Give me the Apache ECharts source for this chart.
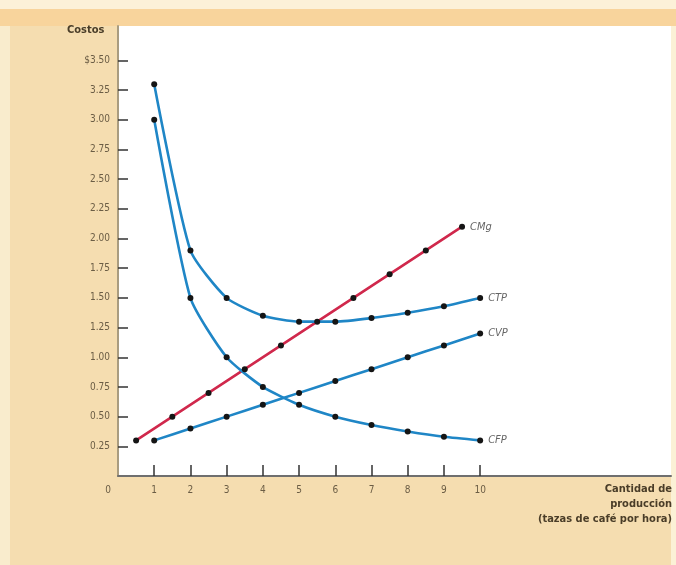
<!DOCTYPE html>
<html><head><meta charset="utf-8">
<script src="https://cdn.jsdelivr.net/npm/echarts@6/dist/echarts.min.js"></script>
<style>html,body{margin:0;padding:0;background:#f5ddb0}#c{width:676px;height:565px}</style>
</head><body><div id="c"></div>
<script>
const quantity = [1,2,3,4,5,6,7,8,9,10];
const cmgQuantity = [0.5,1.5,2.5,3.5,4.5,5.5,6.5,7.5,8.5,9.5];
const cmg = [0.30,0.50,0.70,0.90,1.10,1.30,1.50,1.70,1.90,2.10];
const ctp = [3.30,1.90,1.50,1.35,1.30,1.30,1.33,1.375,1.43,1.50];
const cvp = [0.30,0.40,0.50,0.60,0.70,0.80,0.90,1.00,1.10,1.20];
const cfp = [3.00,1.50,1.00,0.75,0.60,0.50,0.43,0.375,0.33,0.30];
const yTicks = [0.25,0.5,0.75,1,1.25,1.5,1.75,2,2.25,2.5,2.75,3,3.25,3.5];
const xTicks = [0,1,2,3,4,5,6,7,8,9,10];

const font = '"Liberation Sans Narrow","DejaVu Sans Condensed",sans-serif';
const chart = echarts.init(document.getElementById('c'));
const pairs = (xs, ys) => xs.map((x,i)=>[x, ys[i]]);
function curve(name, xs, ys, color, smooth) {
  return {
    name, type:'line', data: pairs(xs, ys), smooth: smooth,
    symbol:'circle', symbolSize:6,
    itemStyle:{color:'#151515'},
    lineStyle:{color, width:2.6},
    endLabel:{show:true, formatter:name, color:'#666', fontStyle:'italic',
      fontFamily:font, fontSize:11, distance:8},
    z:3
  };
}
chart.setOption({
  backgroundColor:'#f5ddb0',
  animation:false,
  graphic:[
    {type:'rect', shape:{x:0,y:0,width:676,height:9}, style:{fill:'#fcf1d8'}, z:-10},
    {type:'rect', shape:{x:0,y:9,width:676,height:17}, style:{fill:'#f8d49c'}, z:-10},
    {type:'rect', shape:{x:0,y:26,width:10,height:539}, style:{fill:'#f9eccd'}, z:-10},
    {type:'rect', shape:{x:671,y:26,width:5,height:539}, style:{fill:'#fbf1d6'}, z:-10},
    {type:'text', right:4, top:482, style:{text:'Cantidad de\nproducción\n(tazas de café por hora)',
      textAlign:'right', fill:'#4a3d28', font:'bold 11px '+font, lineHeight:15}},
    {type:'text', left:67, top:25, style:{text:'Costos', fill:'#4a3d28', font:'bold 11px '+font}}
  ],
  grid:{left:118, right:5, top:26, bottom:89, show:true, backgroundColor:'#ffffff', borderWidth:0},
  xAxis:{type:'value', min:0, max:15.27, splitLine:{show:false},
    axisLine:{lineStyle:{color:'#6f6f6f', width:2}},
    axisTick:{show:true, inside:true, length:11, customValues:xTicks.slice(1), lineStyle:{color:'#333', width:1.5}},
    axisLabel:{customValues:xTicks, color:'#6b5d45', fontFamily:font, fontSize:10, margin:9,
      formatter:v=> v===0 ? '{z|0}' : String(v), rich:{z:{padding:[0,20,0,0], color:'#6b5d45', fontFamily:font, fontSize:10}}}
  },
  yAxis:{type:'value', min:0, max:3.79, splitLine:{show:false},
    axisLine:{lineStyle:{color:'#a99c80', width:2}},
    axisTick:{show:true, inside:true, length:10, customValues:yTicks, lineStyle:{color:'#333', width:1.5}},
    axisLabel:{customValues:yTicks, color:'#6b5d45', fontFamily:font, fontSize:10, margin:8,
      formatter:v=> v===3.5 ? '$3.50' : v.toFixed(2)}
  },
  series:[
    curve('CMg', cmgQuantity, cmg, '#d0284c', false),
    curve('CTP', quantity, ctp, '#1f86c6', 0.2),
    curve('CVP', quantity, cvp, '#1f86c6', 0.2),
    curve('CFP', quantity, cfp, '#1f86c6', 0.2)
  ]
});
</script></body></html>
